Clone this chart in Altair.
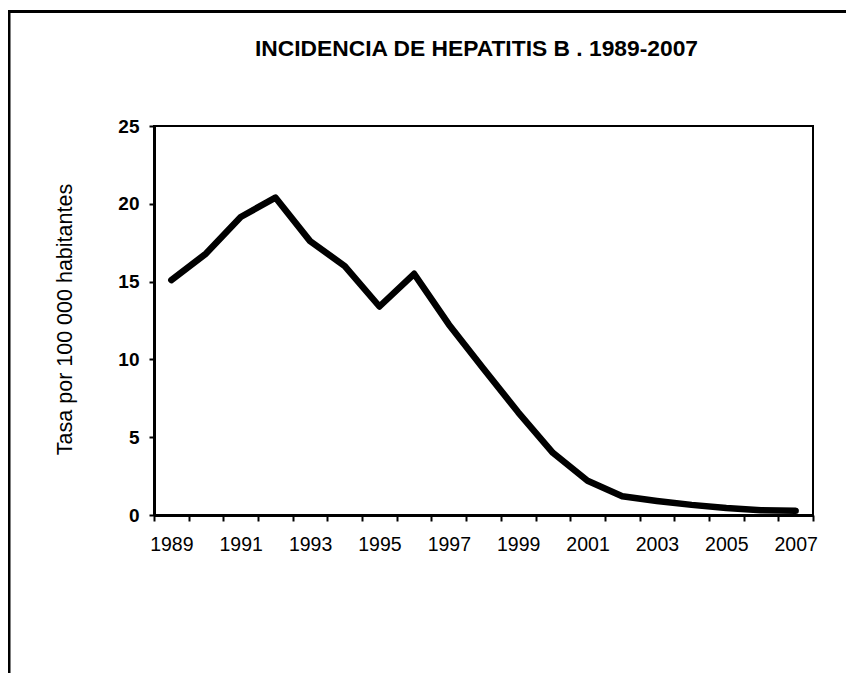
import altair as alt
import pandas as pd

# ---- data ----
years = list(range(1989, 2008))
rates = [15.1, 16.8, 19.15, 20.4, 17.6, 16.0, 13.4, 15.5, 12.25, 9.4,
         6.6, 4.0, 2.2, 1.2, 0.9, 0.65, 0.45, 0.3, 0.27]
x_tick_values = [y - 0.5 for y in years] + [2007.5]
y_tick_values = [0, 5, 10, 15, 20, 25]
title_text = "INCIDENCIA DE HEPATITIS B . 1989-2007"
y_title = "Tasa por 100 000 habitantes"

df = pd.DataFrame({"year": years, "rate": rates})

FONT = "Liberation Sans"
W, H = 659, 389
PAD = {"left": 146, "top": 118, "right": 34, "bottom": 159}

x_enc = alt.X(
    "year:Q",
    scale=alt.Scale(domain=[1988.5, 2007.5], nice=False, zero=False),
    axis=alt.Axis(
        values=x_tick_values,
        labelExpr="((datum.value - 1988.5) % 2 == 0 && datum.value < 2007) ? '' + (datum.value + 0.5) : ''",
        labelOffset=W / 19 / 2,
        labelOverlap=False,
        labelFlush=False,
        labelBound=False,
        title=None,
        grid=False,
        tickSize=6,
        tickWidth=2,
        labelPadding=14,
        labelFontSize=19.5,
        labelFont=FONT,
        domainWidth=3,
    ),
)

y_enc = alt.Y(
    "rate:Q",
    scale=alt.Scale(domain=[0, 25], nice=False),
    axis=alt.Axis(
        values=y_tick_values,
        title=y_title,
        grid=False,
        tickSize=5,
        tickWidth=2,
        labelPadding=10,
        labelFontSize=19,
        labelFontWeight="bold",
        labelFont=FONT,
        titleFont=FONT,
        titleFontSize=21.5,
        titleFontWeight="normal",
        titleX=-89,
        titleY=193,
        titleBaseline="middle",
        domainWidth=3,
    ),
)

line = alt.Chart(df).mark_line(
    color="black", strokeWidth=6.5, strokeCap="round", strokeJoin="round"
).encode(x=x_enc, y=y_enc)

# decorative outer frame (only its left and top sides are visible in the reference),
# drawn as thin filled bars inside the drawing surface
svg_right = W + PAD["right"] - 1
svg_bottom = H + PAD["bottom"] - 1
frame_src = pd.DataFrame({"f": [0]})
frame_left = alt.Chart(frame_src).mark_rect(color="black", strokeWidth=0).encode(
    x=alt.value(-146.5), x2=alt.value(-143.5), y=alt.value(-116), y2=alt.value(svg_bottom)
)
frame_top = alt.Chart(frame_src).mark_rect(color="black", strokeWidth=0).encode(
    x=alt.value(-146.5), x2=alt.value(svg_right), y=alt.value(-116), y2=alt.value(-113)
)

chart = alt.layer(frame_left, frame_top, line).properties(
    width=W,
    height=H,
    autosize=alt.AutoSizeParams(type="none"),
    padding=PAD,
    background="white",
    title=alt.TitleParams(
        text=title_text,
        font=FONT,
        fontSize=22.8,
        fontWeight="bold",
        color="black",
        anchor="middle",
        frame="group",
        baseline="alphabetic",
        dx=-7,
        dy=69,
        offset=0,
    ),
).configure_view(
    stroke="black", strokeWidth=2
).configure_axis(
    domainColor="black", tickColor="black", labelColor="black", titleColor="black"
)

chart.save("out.html", embed_options={"renderer": "svg", "actions": False})
